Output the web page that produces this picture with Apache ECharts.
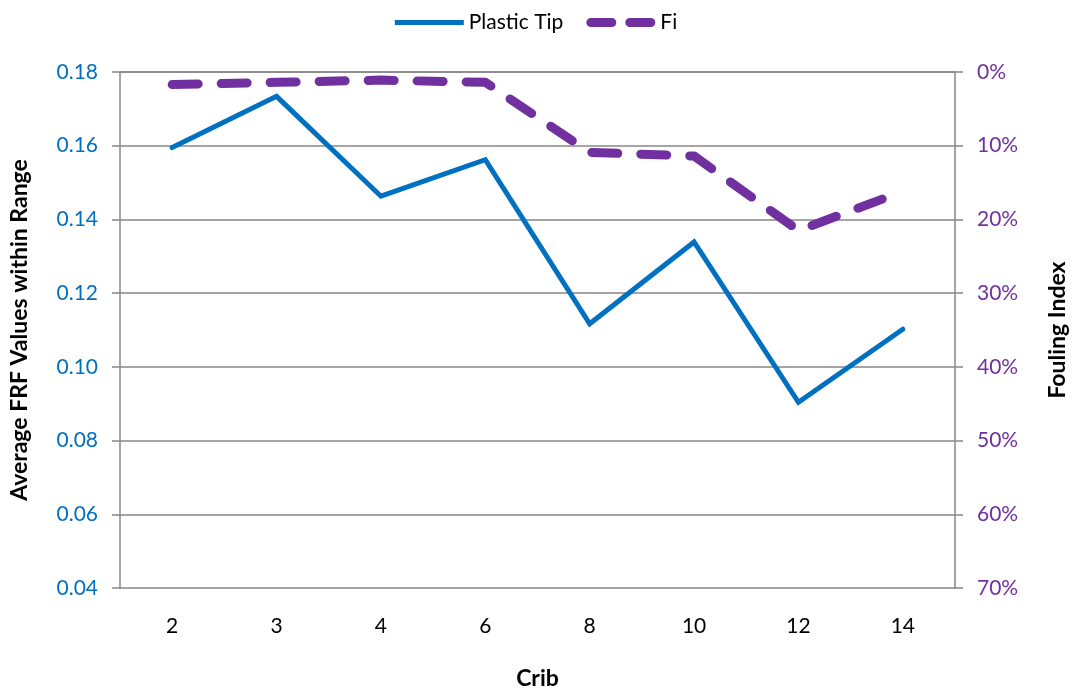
<!DOCTYPE html>
<html>
<head>
<meta charset="utf-8">
<style>
  html, body { margin: 0; padding: 0; background: #ffffff; }
  #chart { width: 1072px; height: 688px; }
</style>
<script src="https://cdn.jsdelivr.net/npm/echarts@6/dist/echarts.min.js"></script>
</head>
<body>
<div id="chart"></div>
<script>
// Crib numbers along the horizontal axis
const cribs = ['2', '3', '4', '6', '8', '10', '12', '14'];
// Average FRF values within range (left axis)
const plasticTip = [0.1595, 0.1734, 0.1463, 0.1562, 0.1117, 0.1339, 0.0904, 0.1102];
// Fouling index in percent (right axis, inverted)
const foulingIndex = [1.7, 1.4, 1.1, 1.4, 10.9, 11.4, 21.5, 16.2];

const FONT = 'Lato, "Liberation Sans", sans-serif';
const BLUE = '#0070C0';
const PURPLE = '#7030A0';
const GREY = '#878787';

// Legend keys: a solid bar for the solid line, two rounded dashes for the dashed line
const ICON_SOLID = 'path://M0,0 H68 V5 H0 Z';
const ICON_DASHED = 'path://M4.5,0 H25.5 A4.5,4.5 0 0 1 25.5,9 H4.5 A4.5,4.5 0 0 1 4.5,0 Z ' +
                    'M43.5,0 H64.5 A4.5,4.5 0 0 1 64.5,9 H43.5 A4.5,4.5 0 0 1 43.5,0 Z';

const chart = echarts.init(document.getElementById('chart'), null, { renderer: 'canvas' });

chart.setOption({
  animation: false,
  textStyle: { fontFamily: FONT },
  legend: {
    top: 7,
    left: 'center',
    itemWidth: 69,
    itemHeight: 9,
    itemGap: 23,
    textStyle: { fontFamily: FONT, fontSize: 21, color: '#000' },
    data: [
      { name: 'Plastic Tip', icon: ICON_SOLID, itemStyle: { color: BLUE } },
      { name: 'Fi', icon: ICON_DASHED, itemStyle: { color: PURPLE } }
    ]
  },
  grid: { left: 120, right: 117, top: 72, bottom: 100, containLabel: false, outerBoundsMode: 'none' },
  xAxis: {
    type: 'category',
    data: cribs,
    boundaryGap: true,
    name: 'Crib',
    nameLocation: 'middle',
    nameGap: 79,
    nameTextStyle: { fontFamily: FONT, fontSize: 23, fontWeight: 'bold', color: '#000' },
    axisLine: { lineStyle: { color: GREY, width: 1.5 } },
    axisTick: { show: false },
    axisLabel: { margin: 28, fontSize: 21, color: '#000', fontFamily: FONT }
  },
  yAxis: [
    {
      type: 'value',
      min: 0.04,
      max: 0.18,
      interval: 0.02,
      position: 'left',
      name: 'Average FRF Values within Range',
      nameLocation: 'middle',
      nameRotate: 90,
      nameGap: 89,
      nameTextStyle: { fontFamily: FONT, fontSize: 23, fontWeight: 'bold', color: '#000' },
      axisLine: { show: true, lineStyle: { color: GREY, width: 1.5 } },
      axisTick: { show: true, length: 8, lineStyle: { color: GREY, width: 1.5 } },
      axisLabel: {
        margin: 22, fontSize: 21, color: BLUE, fontFamily: FONT,
        formatter: v => v.toFixed(2)
      },
      splitLine: { show: true, lineStyle: { color: GREY, width: 1.5 } }
    },
    {
      type: 'value',
      min: 0,
      max: 70,
      interval: 10,
      inverse: true,
      position: 'right',
      name: 'Fouling Index',
      nameLocation: 'middle',
      nameRotate: 90,
      nameGap: 91,
      nameTextStyle: { fontFamily: FONT, fontSize: 23, fontWeight: 'bold', color: '#000' },
      axisLine: { show: true, lineStyle: { color: GREY, width: 1.5 } },
      axisTick: { show: true, length: 8, lineStyle: { color: GREY, width: 1.5 } },
      axisLabel: { margin: 22, fontSize: 21, color: PURPLE, fontFamily: FONT, formatter: '{value}%' },
      splitLine: { show: false }
    }
  ],
  series: [
    {
      name: 'Plastic Tip',
      type: 'line',
      yAxisIndex: 0,
      data: plasticTip,
      symbol: 'none',
      showSymbol: false,
      color: BLUE,
      lineStyle: { color: BLUE, width: 5, cap: 'round', join: 'miter' }
    },
    {
      name: 'Fi',
      type: 'line',
      yAxisIndex: 1,
      data: foulingIndex,
      symbol: 'none',
      showSymbol: false,
      color: PURPLE,
      lineStyle: { color: PURPLE, width: 9, type: [26, 23], cap: 'round', join: 'round' }
    }
  ]
});
</script>
</body>
</html>
